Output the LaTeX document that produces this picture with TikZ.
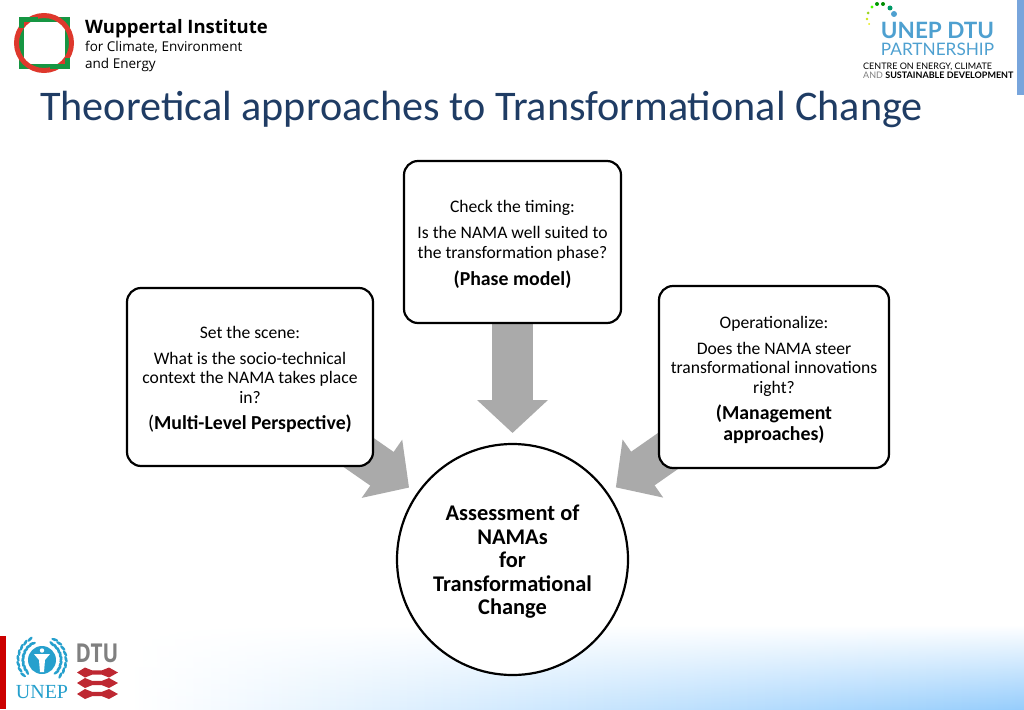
\documentclass[tikz,border=0pt]{standalone}
\usepackage{fontspec}
\setmainfont{Carlito}
\newfontfamily\logofont{Open Sans}
\newfontfamily\unepfont{Liberation Serif}
\newfontfamily\partnerfont{Lato}
\usetikzlibrary{arrows.meta,backgrounds,fadings,shapes.geometric}
\definecolor{titleblue}{RGB}{31,60,100}
\definecolor{arrowgrey}{RGB}{170,170,170}
\definecolor{logored}{RGB}{222,56,44}
\definecolor{logogreen}{RGB}{22,150,66}
\definecolor{partnerblue}{RGB}{78,160,208}
\definecolor{unepblue}{RGB}{38,160,205}
\definecolor{stripeblue}{RGB}{120,165,220}
\definecolor{bandblue}{RGB}{150,205,252}
\definecolor{dtured}{RGB}{190,40,50}
\newcommand{\boldline}{\fontsize{19.8}{22}\selectfont\bfseries}

\begin{document}
\begin{tikzpicture}[
    x=1pt, y=-1pt,
    box/.style={rectangle, draw=black, fill=white, line width=2.2pt, rounded corners=14pt,
                align=center, font=\fontsize{17.6}{19.5}\selectfont},
    bigarrow/.style={draw=arrowgrey, line width=41pt,
                     -{Triangle[length=33pt,width=69pt]}},
    leaf/.style={ellipse, fill=unepblue, inner sep=0pt, minimum width=7pt, minimum height=2.8pt}
]
    \useasboundingbox (0,0) rectangle (1024,709);

    % Title
    \node[text=titleblue, font=\fontsize{42.2}{48}\selectfont, anchor=west, inner sep=0pt] (title)
        at (40,109) {Theoretical approaches to Transformational Change};

    % Boxes
    \node[box, minimum width=217pt, minimum height=162pt] (phase) at (512.5,242)
        {\rule{0pt}{17pt}Check the timing:\\[6.5pt]
         Is the NAMA well suited to\\the transformation phase?\\[7.5pt]
         \boldline (Phase model)};
    \node[box, minimum width=246pt, minimum height=178pt] (scene) at (250,377)
        {\rule{0pt}{17pt}Set the scene:\\[6.5pt]
         What is the socio-technical\\context the NAMA takes place\\in?\\[6.5pt]
         \fontsize{19.8}{22}\selectfont(\textbf{Multi-Level Perspective)}};
    \node[box, minimum width=230pt, minimum height=182pt] (manage) at (774,377)
        {\rule{0pt}{18pt}Operationalize:\\[6.5pt]
         Does the NAMA steer\\transformational innovations\\right?\\[6.5pt]
         \boldline (Management\\[2pt]\boldline approaches)};
    \node[circle, draw=black, fill=white, line width=2.2pt, minimum size=231pt, inner sep=0pt,
          align=center, font=\fontsize{22.4}{23.5}\selectfont\bfseries] (assess) at (512.5,559.5)
        {\rule{0pt}{20pt}Assessment of\\NAMAs\\for\\Transformational\\Change};

    % Arrows and page background
    \begin{scope}[on background layer]
        \shade[left color=white, middle color=bandblue!60!white, right color=bandblue, path fading=north]
            (130,625) rectangle (1024,709);
        \fill[stripeblue] (1017,0) rectangle (1024,95);
        \fill[red!80!black] (0,636) rectangle (6,709);
        \draw[bigarrow, shorten >=126.5pt] (phase.center) -- (assess.center);
        \draw[bigarrow, shorten >=126pt] (scene.center) -- (assess.center);
        \draw[bigarrow, shorten >=126pt] (manage.center) -- (assess.center);
    \end{scope}

    % Wuppertal logo
    \draw[logogreen, line width=5pt] (21.5,19.5) rectangle (67.5,66.5);
    \draw[logored, line width=5pt] (44,43) circle (27.5);
    \draw[logogreen, line width=5pt] (21.5,28) -- (21.5,19.5) -- (38,19.5);
    \draw[logogreen, line width=5pt] (67.5,58) -- (67.5,66.5) -- (50,66.5);
    \node[anchor=west, inner sep=0pt, font=\logofont\bfseries\fontsize{18.5}{22}\selectfont] (wuppertal)
        at (85,29) {Wuppertal Institute};
    \node[anchor=north west, inner sep=0pt, align=left, font=\logofont\fontsize{13.5}{17}\selectfont] (wupsub)
        at (85,41) {for Climate, Environment\\and Energy};

    % Partnership logo
    \foreach \xpos/\ypos/\col/\rad in {894/14/partnerblue/3, 890/8/teal!80!green/2.5, 883/4/green!55!black/2,
                                       877/4/green!60!black/2, 872/7/green!70!yellow/1.7, 868/13/yellow!60!green/1.5,
                                       867/19/yellow!80!green/1.3, 869/24/yellow!90!green/1}
        \fill[\col] (\xpos,\ypos) circle (\rad);
    \node[text=partnerblue, inner sep=0pt, font=\partnerfont\bfseries\fontsize{22.5}{24}\selectfont] (unepdtu)
        at (937.5,30.5) {UNEP DTU};
    \node[text=partnerblue, inner sep=0pt, font=\partnerfont\fontsize{17.2}{18}\selectfont] (partnership)
        at (937.5,49.5) {PARTNERSHIP};
    \node[anchor=west, inner sep=0pt, font=\partnerfont\fontsize{9}{10}\selectfont] (centre)
        at (863,66.5) {CENTRE ON ENERGY, CLIMATE};
    \node[anchor=west, inner sep=0pt, font=\partnerfont\fontsize{9}{10}\selectfont] (sustain)
        at (863,75.5) {\textcolor{gray}{AND} \textbf{SUSTAINABLE DEVELOPMENT}};

    % UNEP and DTU logos
    \fill[unepblue] (42,660) circle (14);
    \fill[white] (42,650.5) circle (2.2);
    \fill[white] (34,654) -- (50,654) -- (45,660) -- (44,672) -- (40,672) -- (39,660) -- cycle;
    \foreach \ang in {-40,-26,...,60,120,134,...,220} {
        \node[leaf, rotate=\ang+75] at ({42+cos(\ang)*19},{660-sin(\ang)*19}) {};
        \node[leaf, rotate=\ang+105] at ({42+cos(\ang)*24},{660-sin(\ang)*24}) {};
    }
    \node[text=unepblue, inner sep=0pt, font=\unepfont\fontsize{20}{22}\selectfont] (unep) at (42,692) {UNEP};
    \node[text=gray, inner sep=0pt, xscale=0.8, font=\logofont\bfseries\fontsize{26}{26}\selectfont] (dtu) at (97,653) {DTU};
    \foreach \ypos in {672.5,683,694}
        \fill[dtured] (77,\ypos) -- (85,{\ypos-5}) -- (92,{\ypos-2.2}) -- (102,{\ypos-2.2}) -- (109,{\ypos-5}) -- (118,\ypos)
                      -- (109,{\ypos+5}) -- (102,{\ypos+2.2}) -- (92,{\ypos+2.2}) -- (85,{\ypos+5}) -- cycle;
\end{tikzpicture}
\end{document}
